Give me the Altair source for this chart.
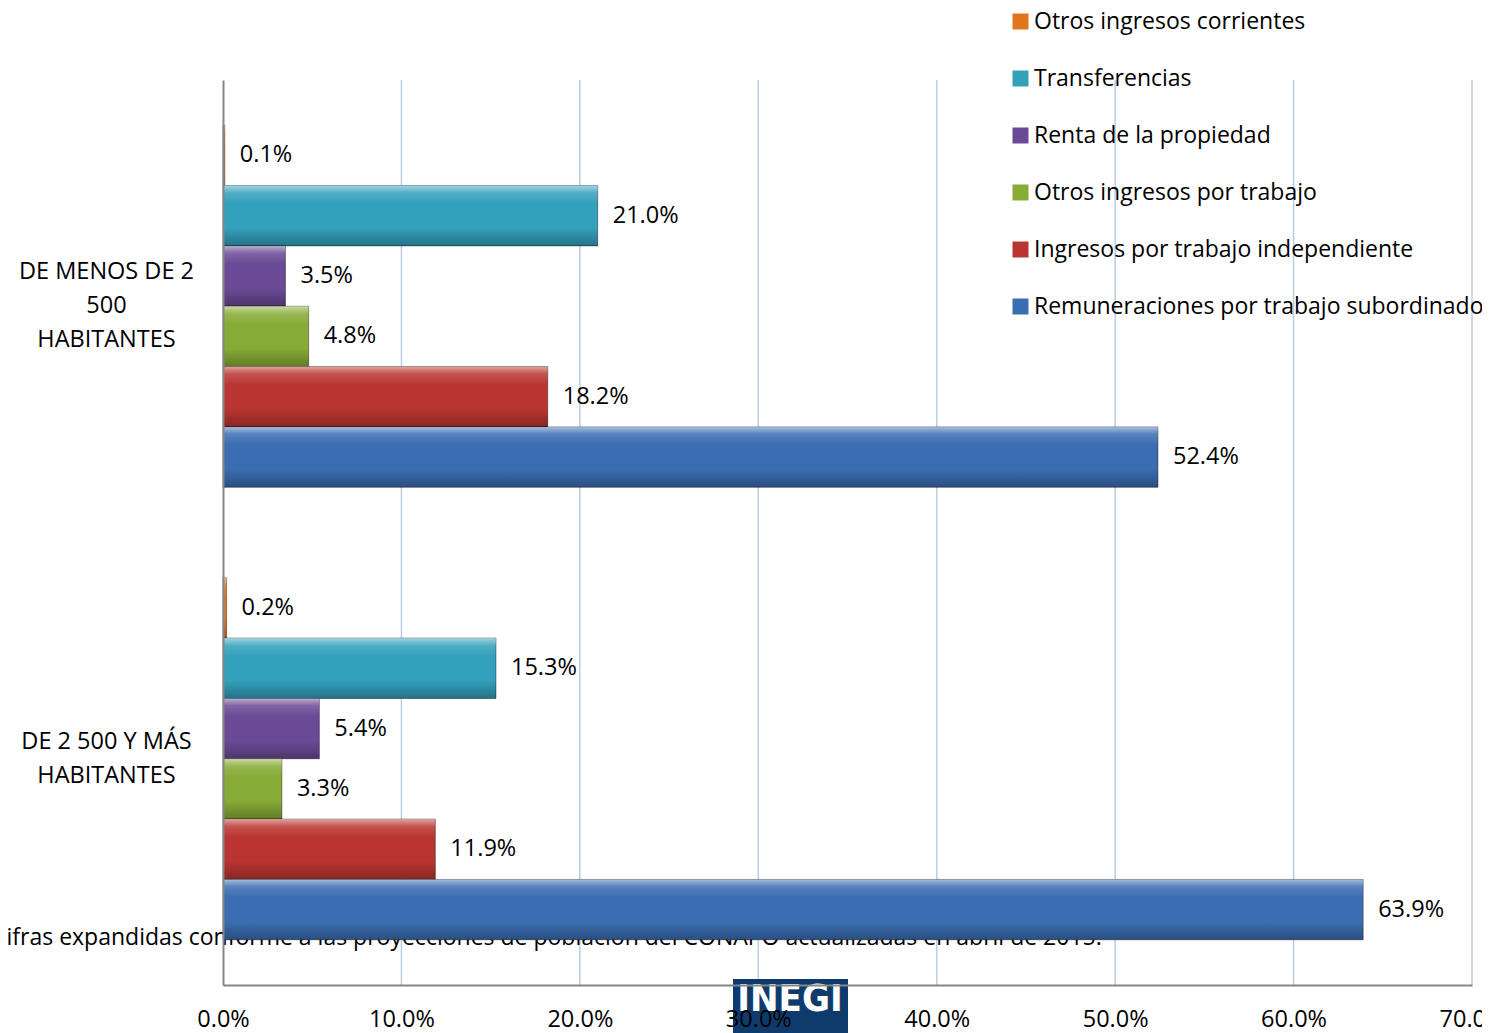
import altair as alt
import pandas as pd

categories = ["DE MENOS DE 2|500|HABITANTES", "DE 2 500 Y MÁS|HABITANTES"]
series = [
    "Otros ingresos corrientes",
    "Transferencias",
    "Renta de la propiedad",
    "Otros ingresos por trabajo",
    "Ingresos por trabajo independiente",
    "Remuneraciones por trabajo subordinado",
]
values_menos = [0.1, 21.0, 3.5, 4.8, 18.2, 52.4]
values_mas = [0.2, 15.3, 5.4, 3.3, 11.9, 63.9]
colors = ["#E3761C", "#33A0BC", "#6A4A96", "#88AB36", "#BA3531", "#3A6DB1"]
x_ticks = [0, 10, 20, 30, 40, 50, 60, 70]
footnote = ["Cifras expandidas conforme a las proyecciones de población del CONAPO actualizadas en abril de 2015."]
logo_text = ["INEGI"]

FONT = "Open Sans"
FS = 23.5

rows = []
for cat, vals in zip(categories, [values_menos, values_mas]):
    for s, v in zip(series, vals):
        rows.append({"cat": cat, "series": s, "value": v, "label": f"{v:.1f}%"})
df = pd.DataFrame(rows)

y_enc = alt.Y(
    "cat:N",
    sort=categories,
    scale=alt.Scale(paddingInner=0.2, paddingOuter=0.1),
    axis=alt.Axis(
        title=None, ticks=False, labelExpr="split(datum.value, '|')",
        labelFontSize=FS, labelLineHeight=34, labelPadding=117, labelAlign="center",
        labelBaseline="middle", labelColor="black", labelFont=FONT,
        labelOffset={"condition": {"test": "length(split(datum.value, '|')) == 3", "value": -34}, "value": -17},
        domainColor="#868686", domainWidth=2, grid=False, zindex=1,
    ),
)
yoff_enc = alt.YOffset("series:N", sort=series, scale=alt.Scale(paddingInner=0, paddingOuter=0))
x_enc = alt.X(
    "value:Q",
    scale=alt.Scale(domain=[0, 70], nice=False),
    axis=alt.Axis(
        values=x_ticks, labelExpr="format(datum.value, '.1f') + '%'", title=None,
        ticks=False, grid=False,
        domainColor="#868686", domainWidth=2, labelFontSize=FS, labelPadding=22,
        labelColor="black", labelFont=FONT, labelFlush=False, zindex=1,
    ),
)

grid = alt.Chart(pd.DataFrame({"value": x_ticks[1:]})).mark_rule(color="#B9CDE5", strokeWidth=1.5).encode(
    x=x_enc
)

note = alt.Chart(pd.DataFrame({"note": footnote})).mark_text(
    align="left", baseline="middle", fontSize=23, font=FONT, color="black"
).encode(x=alt.value(-231), y=alt.value(858), text="note:N")

logo_box = alt.Chart(pd.DataFrame({"t": logo_text})).mark_rect(color="#0F3B6C").encode(
    x=alt.value(510), x2=alt.value(625), y=alt.value(899), y2=alt.value(970)
)
logo_txt = alt.Chart(pd.DataFrame({"t": logo_text})).mark_text(
    align="center", baseline="middle", fontSize=38, fontWeight="bold", font="DejaVu Sans Condensed", color="white"
).encode(x=alt.value(567), y=alt.value(920), text="t:N")

bars = alt.Chart(df).mark_bar(stroke="rgba(0,0,0,0.4)", strokeWidth=1).encode(
    x=x_enc, y=y_enc, yOffset=yoff_enc,
    color=alt.Color(
        "series:N", sort=series,
        scale=alt.Scale(domain=series, range=colors),
        legend=alt.Legend(
            title=None, orient="none", legendX=786, legendY=-70,
            symbolType="square", symbolSize=256, symbolStrokeWidth=0,
            labelFontSize=23, labelFont=FONT, labelColor="black",
            labelOffset=2, rowPadding=33, padding=0, labelLimit=600,
        ),
    ),
)

shade = alt.Chart(df).mark_bar(
    color=alt.Gradient(
        gradient="linear", x1=0, x2=0, y1=0, y2=1,
        stops=[
            alt.GradientStop(color="rgba(255,255,255,0.55)", offset=0),
            alt.GradientStop(color="rgba(255,255,255,0.15)", offset=0.12),
            alt.GradientStop(color="rgba(255,255,255,0.0)", offset=0.3),
            alt.GradientStop(color="rgba(0,0,0,0.0)", offset=0.7),
            alt.GradientStop(color="rgba(0,0,0,0.28)", offset=1),
        ],
    )
).encode(x=x_enc, y=y_enc, yOffset=yoff_enc)

labels = alt.Chart(df).mark_text(
    align="left", baseline="middle", dx=15, fontSize=FS, font=FONT, color="black"
).encode(x=x_enc, y=y_enc, yOffset=yoff_enc, text="label:N")

chart = alt.layer(grid, note, logo_box, logo_txt, bars, shade, labels).properties(
    width=1249, height=905,
    background="white",
    autosize=alt.AutoSizeParams(type="none"),
    padding={"left": 215, "top": 72, "right": 10, "bottom": 50},
).configure_view(strokeWidth=0, stroke="transparent")

chart.save("out.html", embed_options={"renderer": "svg", "actions": False})
